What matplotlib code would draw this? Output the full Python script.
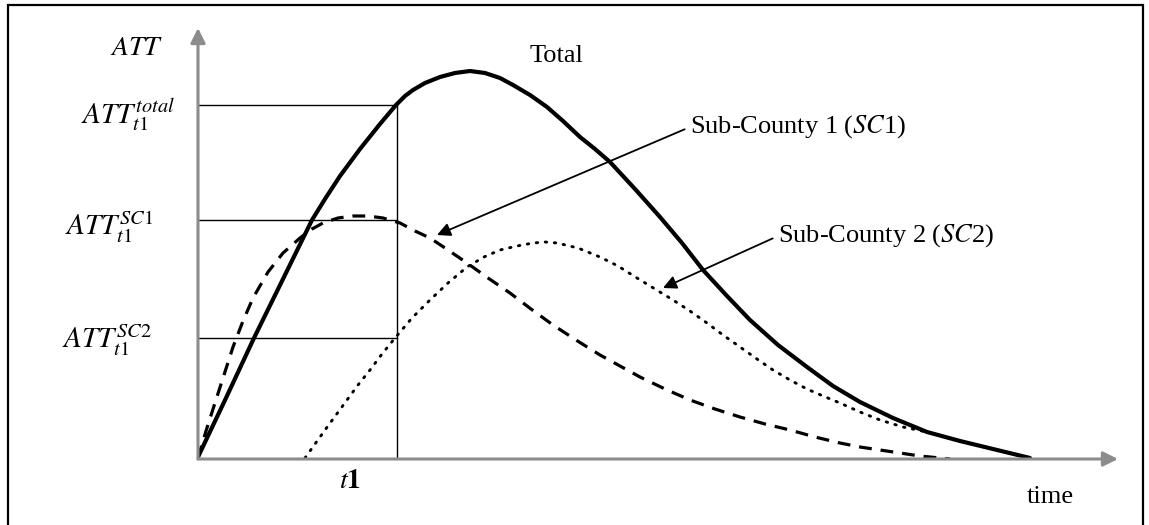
import matplotlib
matplotlib.use("Agg")
import matplotlib.pyplot as plt
from matplotlib.patches import Rectangle

plt.rcParams['font.family'] = 'Liberation Serif'
plt.rcParams['mathtext.fontset'] = 'stix'

# curves (time, ATT)
total_t = [0.0, 0.28, 0.56, 0.85, 1.14, 1.27, 1.42, 1.62, 1.82, 1.98, 2.07, 2.15,
           2.27, 2.42, 2.57, 2.72, 2.87, 3.02, 3.15, 3.32, 3.49, 3.65, 3.82, 3.97,
           4.12, 4.37, 4.62, 4.84, 5.05, 5.29, 5.52, 5.80, 6.09, 6.35, 6.62, 6.95,
           7.29, 7.62, 7.95, 8.32]
total_v = [0.02, 0.61, 1.21, 1.80, 2.39, 2.60, 2.83, 3.10, 3.35, 3.54, 3.63, 3.69,
           3.76, 3.82, 3.86, 3.88, 3.86, 3.81, 3.74, 3.64, 3.52, 3.38, 3.22, 3.10,
           2.97, 2.70, 2.42, 2.16, 1.89, 1.63, 1.39, 1.14, 0.92, 0.73, 0.57, 0.41,
           0.27, 0.18, 0.10, 0.01]

sc1_t = [0.0, 0.08, 0.16, 0.25, 0.35, 0.45, 0.55, 0.70, 0.85, 1.02, 1.14, 1.25,
         1.40, 1.55, 1.70, 1.85, 2.02, 2.17, 2.32, 2.50, 2.69, 2.90, 3.12, 3.33,
         3.55, 3.78, 4.02, 4.22, 4.42, 4.67, 4.92, 5.17, 5.42, 5.67, 5.92, 6.17,
         6.42, 6.62, 6.82, 7.02, 7.22, 7.52]
sc1_v = [0.01, 0.28, 0.53, 0.81, 1.12, 1.38, 1.61, 1.87, 2.06, 2.21, 2.30, 2.36,
         2.41, 2.43, 2.43, 2.41, 2.36, 2.28, 2.21, 2.09, 1.96, 1.81, 1.66, 1.50,
         1.34, 1.19, 1.04, 0.93, 0.82, 0.70, 0.59, 0.50, 0.42, 0.35, 0.29, 0.22,
         0.16, 0.12, 0.09, 0.06, 0.03, 0.0]

sc2_t = [1.07, 1.17, 1.27, 1.38, 1.49, 1.60, 1.72, 1.84, 1.97, 2.14, 2.32, 2.50,
         2.69, 2.86, 3.02, 3.19, 3.35, 3.47, 3.59, 3.80, 4.02, 4.20, 4.39, 4.57,
         4.75, 4.92, 5.09, 5.25, 5.42, 5.59, 5.75, 5.92, 6.09, 6.25, 6.42, 6.62,
         6.82, 7.05, 7.29, 7.62, 7.95, 8.32]
sc2_v = [0.01, 0.15, 0.29, 0.44, 0.59, 0.74, 0.89, 1.05, 1.21, 1.41, 1.59, 1.76,
         1.92, 2.02, 2.09, 2.13, 2.16, 2.17, 2.16, 2.11, 2.02, 1.93, 1.81, 1.70,
         1.59, 1.48, 1.36, 1.24, 1.12, 1.00, 0.89, 0.79, 0.70, 0.63, 0.56, 0.47,
         0.39, 0.32, 0.27, 0.18, 0.10, 0.01]

t1 = 1.99
att_total = 3.54
att_sc1 = 2.39
att_sc2 = 1.21

W, H = 1149, 525
fig = plt.figure(figsize=(W / 100, H / 100), dpi=100)
ax = fig.add_axes([198 / W, (H - 459) / H, 920 / W, 431 / H])
ax.set_xlim(0, 9.2)
ax.set_ylim(0, 4.31)
ax.axis('off')

# outer frame
fig.patches.append(Rectangle((8 / W, -0.1), (1143 - 8) / W, 1.1 - 5 / H,
                             transform=fig.transFigure, fill=False,
                             edgecolor='black', lw=1.6))

# axes with arrows
gray = '#8c8c8c'
ax.annotate('', xy=(9.2, 0), xytext=(0, 0), annotation_clip=False,
            arrowprops=dict(arrowstyle='-|>', color=gray, lw=2.2,
                            mutation_scale=22, shrinkA=0, shrinkB=0))
ax.annotate('', xy=(0, 4.31), xytext=(0, 0), annotation_clip=False,
            arrowprops=dict(arrowstyle='-|>', color=gray, lw=2.2,
                            mutation_scale=22, shrinkA=0, shrinkB=0))

# reference lines at t1
for v in [att_total, att_sc1, att_sc2]:
    ax.plot([0, t1], [v, v], color='black', lw=1.0)
ax.plot([t1, t1], [0, att_total], color='black', lw=1.0)

ax.plot(sc2_t, sc2_v, color='black', lw=2.1, linestyle=(0, (0.5, 2.6)),
        dash_capstyle='round', solid_joinstyle='round')
ax.plot(sc1_t, sc1_v, color='black', lw=2.3, linestyle=(0, (4, 2.8)),
        solid_joinstyle='round')
ax.plot(total_t, total_v, color='black', lw=3.0, solid_capstyle='round',
        solid_joinstyle='round')

# labels
ax.text(-0.61, 4.04, r'$ATT$', fontsize=20, ha='center', va='baseline')
ax.text(-0.70, 3.36, r'$ATT_{t1}^{total}$', fontsize=21, ha='center', va='baseline')
ax.text(-0.89, 2.24, r'$ATT_{t1}^{SC1}$', fontsize=21, ha='center', va='baseline')
ax.text(-0.91, 1.11, r'$ATT_{t1}^{SC2}$', fontsize=21, ha='center', va='baseline')
ax.text(1.52, -0.29, r'$t\mathbf{1}$', fontsize=20, ha='center', va='baseline')
ax.text(8.52, -0.38, 'time', fontsize=19, ha='center', va='center')
ax.text(3.58, 4.03, 'Total', fontsize=19, ha='center', va='center')

ax.annotate('Sub-County 1 ($SC$1)', xy=(2.39, 2.24), xytext=(4.92, 3.32),
            fontsize=19, ha='left', va='center',
            arrowprops=dict(arrowstyle='-|>', color='black', lw=1.3,
                            mutation_scale=20, shrinkA=2, shrinkB=0,
                            relpos=(0, 0.5)))
ax.annotate('Sub-County 2 ($SC$2)', xy=(4.65, 1.71), xytext=(5.80, 2.23),
            fontsize=19, ha='left', va='center',
            arrowprops=dict(arrowstyle='-|>', color='black', lw=1.3,
                            mutation_scale=20, shrinkA=2, shrinkB=0,
                            relpos=(0, 0.5)))

fig.savefig('out.png', dpi=100)
